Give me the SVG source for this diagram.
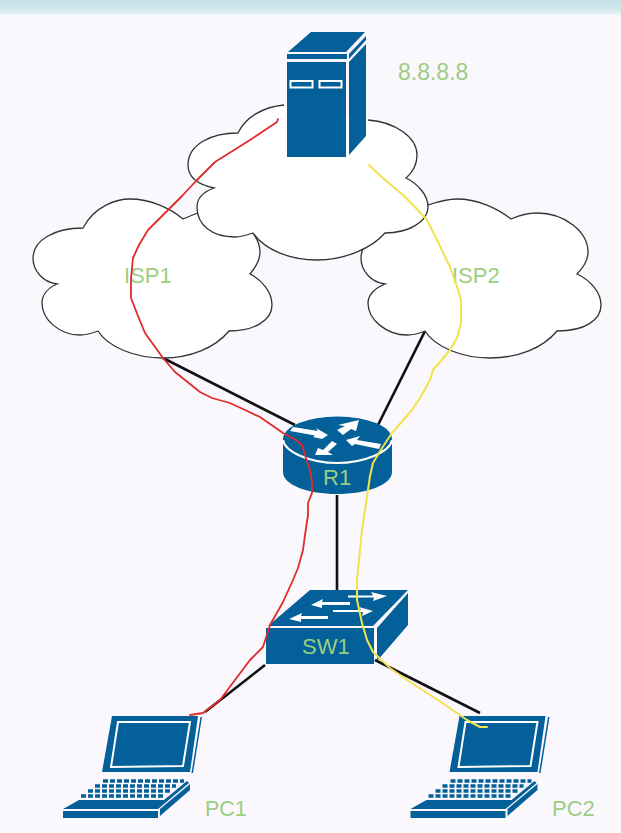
<svg xmlns="http://www.w3.org/2000/svg" width="621" height="833" viewBox="0 0 621 833">
<style>
.cloud{fill:#fff;stroke:#333;stroke-width:1.3}
.dev{fill:#036099}
.wl{fill:none;stroke:#fff;stroke-width:2}
.wa{fill:#fff}
.lbl{font-family:"Liberation Sans",Arial,sans-serif;font-size:22px;fill:#9BCE82}
.link{fill:none;stroke:#111;stroke-width:2.6}
.red{fill:none;stroke:#E02B2B;stroke-width:1.8;stroke-linejoin:round;stroke-linecap:round}
.yel{fill:none;stroke:#F2E24E;stroke-width:2;stroke-linejoin:round;stroke-linecap:round}
.key{fill:none;stroke:#036099;stroke-width:3.4;stroke-dasharray:5 2}
</style>
<defs>
<linearGradient id="band" x1="0" y1="0" x2="0" y2="1">
<stop offset="0" stop-color="#C3E1E8"/><stop offset="0.55" stop-color="#CFE7EC"/><stop offset="1" stop-color="#EAF3F8"/>
</linearGradient>
<g id="laptop">
<polygon class="dev" points="112,716 198,716 190,772 102,772"/>
<polygon class="wl" points="118,722 190,722 183,766 111,767"/>
<polygon class="dev" points="200.500,717 202,717 193,773 191.500,773"/>
<line class="key" x1="103" y1="781" x2="184" y2="781"/>
<line class="key" x1="95" y1="786" x2="176" y2="786"/>
<line class="key" x1="88" y1="791" x2="170" y2="791"/>
<line class="key" x1="81" y1="796" x2="164" y2="796"/>
<polygon class="dev" points="63,809 79,800 164,800 187,781 189,783 158,809"/>
<polygon class="dev" points="63,811 158,811 158,818 63,818"/>
<polygon class="dev" points="160,809 190,784 190,790 160,816"/>
</g>
</defs>
<rect width="621" height="833" fill="#FAF7FD"/>
<rect width="621" height="15" fill="url(#band)"/>
<g id="connectors">
<line class="link" x1="163" y1="358" x2="295" y2="425"/>
<line class="link" x1="425" y1="331" x2="378" y2="425"/>
<line class="link" x1="337" y1="495" x2="337" y2="590"/>
<line class="link" x1="265" y1="665" x2="205" y2="712"/>
<line class="link" x1="375" y1="660" x2="480" y2="713"/>
</g>
<g id="ISP1">
<path class="cloud" d="M83,228C95,205 118,199 130,199C150,199 170,208 183,219C190,216 195,214 198,213L253,233C258,240 260,245 260,252C260,260 255,268 250,274C262,280 272,292 272,305C272,320 255,331 229,331C215,348 190,358 163,358C135,358 108,347 98,331C90,334 85,335 80,335C60,335 42,320 42,303C42,295 48,288 57,284C42,282 33,270 33,258C33,240 55,228 83,228Z"/>
<text class="lbl" x="124" y="283">ISP1</text>
</g>
<g id="ISP2">
<path class="cloud" d="M411,228L428,205C440,201 448,199 457,199C477,199 497,208 511,219C520,215 528,213 537,213C565,213 588,232 588,252C588,260 583,268 577,274C590,280 601,292 601,305C601,320 585,331 557,331C543,348 518,358 490,358C462,358 435,347 425,331C418,334 412,335 407,335C387,335 368,320 368,303C368,295 375,288 385,284C370,282 361,270 361,258C361,240 380,228 411,228Z"/>
<text class="lbl" x="452" y="283">ISP2</text>
</g>
<g id="Internet">
<path class="cloud" d="M284,105C262,107 245,118 238,133C210,133 188,145 188,165C188,178 200,185 214,188C203,192 197,198 197,207C197,225 212,237 235,237C241,237 247,235 253,233C265,250 290,260 317,260C345,260 372,248 385,233C408,233 428,222 428,207C428,195 418,184 406,178C413,172 417,165 417,155C417,137 395,122 368,120"/>
</g>
<g id="server">
<polygon class="dev" points="288,52 311,32 365,32 346,52"/>
<polygon class="dev" points="287,54 347,54 347,59 287,59"/>
<polygon class="dev" points="287,62 346,62 346,157 287,157"/>
<polygon class="dev" points="349,62 366,44 366,136 349,155"/>
<polygon class="dev" points="349,54 366,36 366,40 349,59"/>
<rect x="290.500" y="81" width="22" height="6.500" fill="#036099" stroke="#fff" stroke-width="2"/>
<rect x="319.500" y="81" width="22" height="6.500" fill="#036099" stroke="#fff" stroke-width="2"/>
<text class="lbl" x="398" y="80" style="font-size:23px">8.8.8.8</text>
</g>
<g id="R1">
<path class="dev" d="M283,439V472C283,485 308,494 337,494S392,485 392,472V439Z"/>
<ellipse class="dev" cx="337.500" cy="439" rx="54.500" ry="22.500"/>
<path class="wl" d="M283,440C285,452 310,463 337,463S390,452 392,440"/>
<polygon class="wa" points="290,431 293,427 318,431 316,428 328,435 322,439 313,437 315,435.500"/>
<polygon class="wa" points="337,430 345,426 338,425 359,420 356,431 351,429 343,435"/>
<polygon class="wa" points="346,440 360,436 357,440 381,444 379,449 355,444 352,446"/>
<polygon class="wa" points="315,455 318,448 323,450 332,441 337,444 328,452 333,455"/>
<text class="lbl" x="323" y="485">R1</text>
</g>
<g id="SW1">
<polygon class="dev" points="268,626 310,590 408,590 373,626"/>
<polygon class="dev" points="266,628 374,628 374,664 266,664"/>
<polygon class="dev" points="377,628 408,593 408,625 377,661"/>
<path class="wa" d="M348,595.500H373L371,592L387,596L373,601L374,597.500H348Z"/>
<path class="wa" d="M350,602H322L323,599L311,605L322,608L322,605H350Z"/>
<path class="wa" d="M333,610H361L359,607L373,611L362,616L363,612H333Z"/>
<path class="wa" d="M328,616H301L302,613L289,619L301,622L301,619H328Z"/>
<text class="lbl" x="302" y="654">SW1</text>
</g>
<g id="PC1">
<use href="#laptop"/>
<text class="lbl" x="205" y="816" style="font-size:21.500px">PC1</text>
</g>
<g id="PC2">
<use href="#laptop" x="347.500"/>
<text class="lbl" x="552" y="816">PC2</text>
</g>
<g id="paths">
<polyline class="red" points="278,119 277,122 250,140 215,162 197,180 182,196 168,210 148,230 139,245 133,258 131,278 131,298 138,316 145,333 163,358 175,372 185,380 200,392 212,398 230,403 245,410 260,417 283,433 296,440 302,445 306,458 310,470 312,482 312,493 308,503 308,515 305,535 303,550 298,568 293,580 283,602 270,625 263,647 250,660 235,680 220,700 203,713 190,715"/>
<polyline class="yel" points="369,165 385,180 403,195 415,207 427,220 437,240 450,267 456,283 461,300 461,323 457,338 450,350 440,362 433,370 430,380 420,398 412,410 392,433 382,448 373,463 370,476 368,490 365,510 362,530 360,550 357,580 357,600 362,623 367,640 373,652 390,668 410,682 438,700 467,720 480,727 487,727"/>
</g>
</svg>
